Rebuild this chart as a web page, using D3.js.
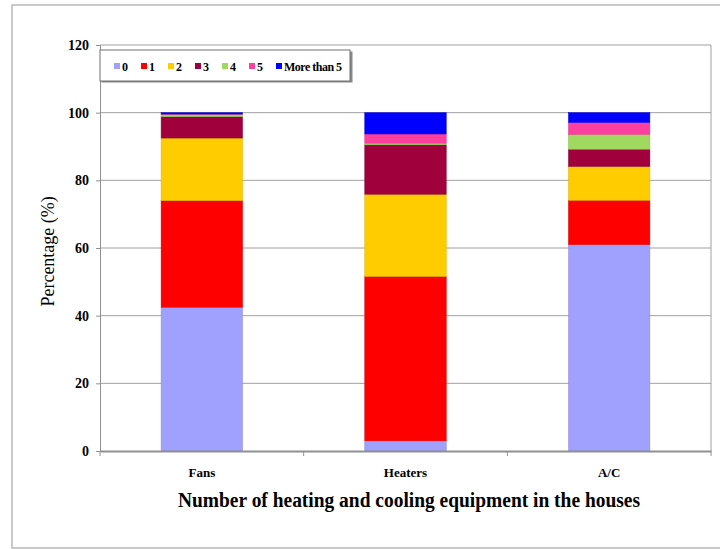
<!DOCTYPE html>
<html>
<head>
<meta charset="utf-8">
<script src="https://cdn.jsdelivr.net/npm/d3@7"></script>
<style>
  body { margin: 0; background: #fff; }
  svg text { font-family: "Liberation Serif", "Times New Roman", serif; fill: #000; }
</style>
</head>
<body>
<div id="chart"></div>
<script>
// Number of heating and cooling equipment per house, stacked percentages

const categories = ['Fans', 'Heaters', 'A/C'];
const seriesNames = ['0', '1', '2', '3', '4', '5', 'More than 5'];
const seriesColors = ['#a0a0ff', '#ff0000', '#ffcc00', '#a0003c', '#a0d860', '#ff3fa0', '#0000ff'];

const count0 = [42.5, 3.0, 61.0];
const count1 = [31.5, 48.6, 13.1];
const count2 = [18.5, 24.3, 10.0];
const count3 = [6.3, 14.6, 5.1];
const count4 = [0.7, 0.5, 4.4];
const count5 = [0.1, 2.7, 3.5];
const countMore = [0.4, 6.3, 2.9];

const yTicks = [0, 20, 40, 60, 80, 100, 120];

function drawChart() {
    const W = 720, H = 549;
    const margin = { top: 45, right: 9, bottom: 98, left: 100 };
    const width = W - margin.left - margin.right;
    const height = H - margin.top - margin.bottom;

    const svg = d3.select('#chart').append('svg')
        .attr('width', W)
        .attr('height', H);

    // outer chart frame
    svg.append('rect')
        .attr('x', 12).attr('y', 5)
        .attr('width', 730).attr('height', 543)
        .attr('fill', 'none')
        .attr('stroke', '#b8b8b8')
        .attr('stroke-width', 1.5);

    const g = svg.append('g')
        .attr('transform', `translate(${margin.left},${margin.top})`);

    const allSeries = [count0, count1, count2, count3, count4, count5, countMore];
    const table = categories.map((c, i) => {
        const row = { category: c };
        seriesNames.forEach((s, j) => { row[s] = allSeries[j][i]; });
        return row;
    });

    const x = d3.scaleBand()
        .domain(categories)
        .range([0, width])
        .paddingInner(0.6)
        .paddingOuter(0.3);

    const y = d3.scaleLinear()
        .domain([0, 120])
        .range([height, 0]);

    // grid
    g.append('g')
        .selectAll('line')
        .data(yTicks.filter(t => t > 0))
        .enter()
        .append('line')
        .attr('x1', 0).attr('x2', width)
        .attr('y1', d => y(d)).attr('y2', d => y(d))
        .attr('stroke', '#a0a0a0')
        .attr('stroke-width', 1);

    // right border of plot area
    g.append('line')
        .attr('x1', width).attr('x2', width)
        .attr('y1', 0).attr('y2', height)
        .attr('stroke', '#a0a0a0');

    // stacked bars
    const stack = d3.stack().keys(seriesNames);
    const layers = stack(table);

    g.selectAll('.layer')
        .data(layers)
        .enter()
        .append('g')
        .attr('class', 'layer')
        .attr('fill', (d, i) => seriesColors[i])
        .attr('stroke', (d, i) => d3.color(seriesColors[i]).darker(0.4))
        .attr('stroke-width', 0.5)
        .selectAll('rect')
        .data(d => d)
        .enter()
        .append('rect')
        .attr('x', d => x(d.data.category))
        .attr('y', d => y(d[1]))
        .attr('width', x.bandwidth())
        .attr('height', d => y(d[0]) - y(d[1]));

    // y axis
    const yAxis = g.append('g')
        .call(d3.axisLeft(y).tickValues(yTicks).tickSize(4).tickPadding(7));
    yAxis.select('.domain').attr('stroke', '#909090');
    yAxis.selectAll('.tick line').attr('stroke', '#909090');
    yAxis.selectAll('.tick text')
        .attr('font-family', '"Liberation Serif", serif')
        .attr('font-weight', 'bold')
        .attr('font-size', '14px');

    // x axis with category separators
    const xAxis = g.append('g')
        .attr('transform', `translate(0,${height})`)
        .call(d3.axisBottom(x).tickSize(0).tickPadding(17));
    xAxis.select('.domain').attr('stroke', '#909090').attr('stroke-width', 2);
    xAxis.selectAll('.tick text')
        .attr('font-family', '"Liberation Serif", serif')
        .attr('font-weight', 'bold')
        .attr('font-size', '13px');
    const step = x.step();
    xAxis.selectAll('.sep')
        .data(d3.range(categories.length + 1))
        .enter()
        .append('line')
        .attr('x1', d => d * step).attr('x2', d => d * step)
        .attr('y1', 0).attr('y2', 5)
        .attr('stroke', '#909090');

    // axis titles
    svg.append('text')
        .attr('transform', `translate(54,${margin.top + y(59)}) rotate(-90)`)
        .attr('text-anchor', 'middle')
        .attr('font-size', '18px')
        .text('Percentage (%)');

    svg.append('text')
        .attr('x', 409)
        .attr('y', 507)
        .attr('text-anchor', 'middle')
        .attr('font-size', '20px')
        .attr('font-weight', 'bold')
        .attr('textLength', 462)
        .attr('lengthAdjust', 'spacingAndGlyphs')
        .text('Number of heating and cooling equipment in the houses');

    // legend
    const legend = svg.append('g').attr('transform', 'translate(100,50)');
    legend.append('rect')
        .attr('x', 1.5).attr('y', 1.5)
        .attr('width', 251).attr('height', 31)
        .attr('fill', '#888');
    legend.append('rect')
        .attr('x', 0).attr('y', 0)
        .attr('width', 250).attr('height', 31)
        .attr('fill', '#fff')
        .attr('stroke', '#707070')
        .attr('stroke-width', 1);

    let lx = 14;
    seriesNames.forEach((s, i) => {
        legend.append('rect')
            .attr('x', lx).attr('y', 13)
            .attr('width', 6).attr('height', 6)
            .attr('fill', seriesColors[i]);
        const t = legend.append('text')
            .attr('x', lx + 8)
            .attr('y', 20.5)
            .attr('font-size', '12px')
            .attr('font-weight', 'bold')
            .attr('letter-spacing', s.length > 1 ? '-0.5px' : '0px')
            .text(s);
        lx += 8 + t.node().getComputedTextLength() + 13;
    });
}

drawChart();
</script>
</body>
</html>
